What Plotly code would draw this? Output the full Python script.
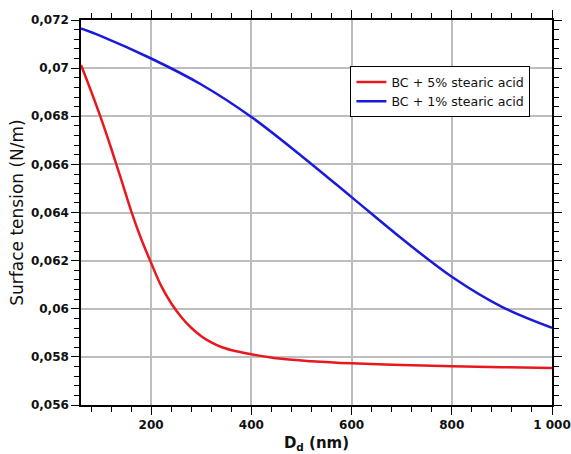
import plotly.graph_objects as go

# Droplet diameter (nm) and surface tension (N/m) for each mixture
d_5pct = [60, 80, 100, 120, 140, 160, 180, 200, 220, 240, 260, 280, 300, 320, 340, 370, 400,
          460, 520, 600, 700, 800, 900, 1000]
st_5pct = [0.07013, 0.06905, 0.06791, 0.06668, 0.06539, 0.06407, 0.06291, 0.06190, 0.06095,
           0.06023, 0.05966, 0.05921, 0.05886, 0.05860, 0.05841, 0.05823, 0.05811, 0.05792,
           0.05782, 0.05773, 0.05766, 0.05761, 0.05757, 0.05754]

d_1pct = [60, 100, 200, 300, 400, 500, 600, 700, 800, 900, 1000]
st_1pct = [0.07165, 0.07133, 0.07040, 0.06932, 0.06797, 0.06635, 0.06464, 0.06292, 0.06133,
           0.06008, 0.05921]

series_names = ["BC + 5% stearic acid", "BC + 1% stearic acid"]

x_tickvals = [200, 400, 600, 800, 1000]
x_ticktext = ["200", "400", "600", "800", "1 000"]
y_tickvals = [0.056, 0.058, 0.060, 0.062, 0.064, 0.066, 0.068, 0.070, 0.072]
y_ticktext = ["0,056", "0,058", "0,06", "0,062", "0,064", "0,066", "0,068", "0,07", "0,072"]

fig = go.Figure()
fig.add_trace(go.Scatter(x=d_5pct, y=st_5pct, mode="lines", name=series_names[0],
                         line=dict(color="#e8191e", width=2.5, shape="spline", smoothing=1)))
fig.add_trace(go.Scatter(x=d_1pct, y=st_1pct, mode="lines", name=series_names[1],
                         line=dict(color="#1a1adb", width=2.5, shape="spline", smoothing=1)))

tick_font = dict(family="DejaVu Sans", size=12, color="#111111", weight="bold")
axis_common = dict(
    showline=True, linecolor="black", linewidth=1.5, mirror="allticks",
    ticks="outside", ticklen=8, tickwidth=1.2, tickcolor="black",
    showgrid=True, gridcolor="#bdbdbd", gridwidth=1.5,
    zeroline=False, tickfont=tick_font, automargin=False,
)

fig.update_xaxes(
    range=[60, 1000], tickvals=x_tickvals, ticktext=x_ticktext,
    minor=dict(dtick=40, tick0=0, ticks="outside", ticklen=5, tickcolor="black", showgrid=False),
    title=dict(text="<b>D<sub>d</sub> (nm)</b>", standoff=6,
               font=dict(family="DejaVu Sans", size=15, color="#111111")),
    **axis_common,
)
fig.update_yaxes(
    range=[0.056, 0.072], tickvals=y_tickvals, ticktext=y_ticktext,
    minor=dict(dtick=0.0004, tick0=0.056, ticks="outside", ticklen=5, tickcolor="black", showgrid=False),
    title=dict(text="Surface tension (N/m)", standoff=3,
               font=dict(family="DejaVu Sans", size=17, color="#111111")),
    **axis_common,
)

fig.update_layout(
    width=571, height=454,
    margin=dict(l=81, r=19, t=20, b=49),
    paper_bgcolor="white", plot_bgcolor="white",
    legend=dict(x=0.572, y=0.88, xanchor="left", yanchor="top",
                bgcolor="white", bordercolor="black", borderwidth=1,
                font=dict(family="DejaVu Sans", size=12.6, color="#111111"),
                itemwidth=30, tracegroupgap=0),
    showlegend=True,
)

fig.write_html("out.html")
